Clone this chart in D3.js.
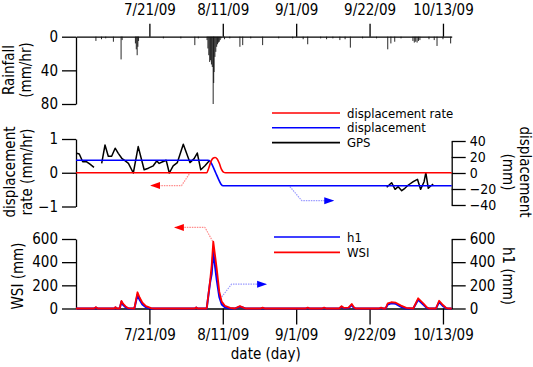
<!DOCTYPE html>
<html>
<head>
<meta charset="utf-8">
<script src="https://cdn.jsdelivr.net/npm/d3@7"></script>
<style>
body { margin: 0; background: #fff; }
svg text { font-family: "DejaVu Sans Condensed", "DejaVu Sans", sans-serif; font-stretch: condensed; fill: #000; }
</style>
</head>
<body>
<svg id="chart" width="533" height="367"></svg>
<script>
/** Data (days counted from 6/30/09) **/
var startDate = "6/30/09";
var endDate = "10/15/09";
var tickLabels = ["7/21/09", "8/11/09", "9/1/09", "9/22/09", "10/13/09"];

// Rainfall (mm/hr)
var rainDay = [5.7, 7.3, 8.5, 10.7, 12.9, 13.2, 17.0, 17.25, 17.5, 17.7, 17.9, 25, 30, 34.0, 35,
    37.5, 37.75, 38.0, 38.25, 38.5, 38.75, 39.0, 39.25, 39.4, 39.5, 39.75, 40.0, 40.25, 40.5, 40.75, 41.0, 41.25, 41.5,
    42.5, 44, 46.9, 47.7, 50, 53.4, 58, 62, 65, 66.3, 70, 71.7, 73.5, 75.5, 77, 78.5, 82, 86,
    89.2, 90.1, 91.2, 93, 96.4, 96.8, 97.2, 97.6, 98.0, 98.4, 101, 102.5, 103.3, 105, 107.2];
var rainVal = [5, 3, 2, 6, 27, 4, 8, 15, 22, 12, 5, 2, 2, 10, 2,
    4, 14, 22, 30, 28, 33, 36, 80, 55, 42, 24, 18, 12, 9, 7, 6, 4, 2,
    3, 2, 12, 10, 2, 10, 2, 2, 3, 9, 2, 3, 2, 4, 3, 13, 2, 2,
    15, 8, 6, 2, 5, 7, 6, 7, 5, 4, 3, 4, 11, 3, 8];

// Displacement rate (mm/hr) and displacement (mm)
var rateDay = [0, 37.4, 38.0, 38.6, 39.2, 39.8, 40.4, 41.0, 41.6, 42.2, 42.8, 107.5];
var rateVal = [0, 0, 0.14, 0.33, 0.43, 0.45, 0.41, 0.28, 0.11, 0.02, 0, 0];
var dispDay = [0, 37.8, 38.5, 39.2, 40.0, 40.8, 41.5, 42.1, 107.5];
var dispVal = [16, 16, 14, 8, 0, -8, -14, -16, -16];

// GPS (mm), null marks a gap
var gpsDay = [0.2, 0.94, 1.92, 3.06, 4.0, 5.15, 6.2,
    7.35, 8.3, 9.24, 10.2, 11.2, 12.1, 13.1, 14.0, 15.0, 16.4, 17.8, 18.8, 19.5, 20.7, 22.1, 23.1, 23.8,
    24.8, 25.8, 26.7, 27.8, 29.0, 30.7, 32.6, 33.8, 34.7, 35.7, 36.9, 37.9, 38.3, 60,
    88.9, 90.3, 91.3, 92.2, 93.2, 94.1, 95.1, 96.5, 97.7, 98.6, 99.6, 100.1, 100.8, 101.5, 102.2];
var gpsVal = [24.6, 23.8, 14, 14, 11, 7, null,
    12, 35, 21, 21, 31, 24.6, 18.4, 15.4, 12, 0, 33, 16, 4, 6, 9, 15, 12,
    14, 16, 0, 9, 13, 36, 13, 18, 25, 4, 9, 14, 16, null,
    -17.9, -12.1, -20.4, -17.1, -22.1, -19.1, -15, -10.9, -7.9, -20.4, -10.9, 0.4, -19.1, -16.2, -13.7];

// WSI and h1 (mm)
var wsiDay = [0, 5.2, 5.7, 6.2, 11.0, 11.3, 11.6, 12.5, 13.0, 13.5, 14.2, 15.0, 16.7, 17.6, 18.2, 19.0, 20.0, 21.5, 22.5,
    34.0, 34.4, 34.8, 37.4, 38.34, 38.83, 39.28, 40.26, 41.0, 41.7, 42.6, 44.1, 45.5, 46.9, 47.7, 48.5,
    52.8, 53.4, 54.0, 65.8, 66.3, 66.8, 70.5, 71.0, 71.5, 75.3, 76.0, 76.6, 78.0, 78.9, 79.5, 80.0,
    86.8, 87.3, 87.8, 88.6, 89.2, 90.2, 91.5, 93.0, 94.5, 96.5, 97.9, 99.5, 100.4, 101.0, 103.0, 103.9, 105.0, 105.9, 106.5, 107.5];
var wsiVal = [0, 0, 12, 0, 0, 12, 0, 0, 65, 40, 18, 3, 0, 140, 95, 50, 20, 3, 0,
    0, 10, 0, 0, 231, 375, 577, 347, 145, 59, 24, 5, 0, 20, 10, 0,
    0, 8, 0, 0, 8, 0, 0, 8, 0, 0, 20, 5, 8, 39, 10, 0,
    0, 8, 0, 0, 45, 54, 50, 25, 5, 0, 88, 40, 10, 0, 0, 67, 30, 5, 0, 0];
var h1Val = [0, 0, 8, 0, 0, 8, 0, 0, 58, 30, 10, 0, 0, 118, 75, 35, 10, 0, 0,
    0, 8, 0, 0, 220, 300, 490, 250, 100, 35, 10, 0, 0, 15, 8, 0,
    0, 5, 0, 0, 5, 0, 0, 5, 0, 0, 15, 3, 5, 30, 5, 0,
    0, 5, 0, 0, 35, 45, 40, 15, 0, 0, 75, 30, 5, 0, 0, 55, 20, 3, 0, 0];

// Dotted annotation arrows, in panel data units
var arrowRateDay = [32.4, 30.2, 21.5];
var arrowRateVal = [-0.04, -0.38, -0.38];
var arrowDispDay = [61.2, 64.6, 73.6];
var arrowDispVal = [-17, -34.6, -34.6];
var arrowWsiDay = [39.1, 36.9, 28.3];
var arrowWsiVal = [580, 700, 700];
var arrowH1Day = [41.7, 44.5, 54.4];
var arrowH1Val = [100, 210, 210];


var parseDate = d3.timeParse("%m/%d/%y");
var t0 = parseDate(startDate);
var t1 = d3.timeHour.offset(parseDate(endDate), 12);

function dayToDate(d)
{
    return new Date(t0.getTime() + d * 86400000);
}

function pairs(days, vals)
{
    return days.map(function(d, i) { return [dayToDate(d), vals[i]]; });
}

var svg = d3.select("#chart");
var xLeft = 76, xRight = 451.7;
var xScale = d3.scaleTime().domain([t0, t1]).range([xLeft, xRight]);
var tickDates = tickLabels.map(parseDate);
var fmt = d3.timeFormat("%-m/%-d/%y");
var fontSize = "15px";

var red = "#ff0000", blue = "#0000ff";

// arrow heads
var defs = svg.append("defs");
[["headRed", red], ["headBlue", blue]].forEach(function(m) {
    defs.append("marker")
        .attr("id", m[0])
        .attr("markerUnits", "userSpaceOnUse")
        .attr("viewBox", "0 -4 10 8")
        .attr("refX", 9).attr("refY", 0)
        .attr("markerWidth", 10).attr("markerHeight", 8)
        .attr("orient", "auto")
        .append("path")
        .attr("d", "M0,-3.5L10,0L0,3.5Z")
        .attr("fill", m[1]);
});

function styleAxis(g, size)
{
    g.selectAll("path, line").attr("stroke", "#000").attr("stroke-width", 1.3);
    g.selectAll("text").attr("font-size", size || fontSize).attr("font-family", null);
    g.attr("font-family", null).attr("font-size", null);
}

function yTitle(lines, bx, cy, angle, size)
{
    var t = svg.append("text")
        .attr("transform", "translate(" + bx + "," + cy + ") rotate(" + angle + ")")
        .attr("text-anchor", "middle")
        .attr("font-size", size || "15px");
    lines.forEach(function(s, i) {
        t.append("tspan").attr("x", 0).attr("dy", i == 0 ? 0 : "1.13em").text(s);
    });
}

function drawLine(data, yS, color, width, curve)
{
    var line = d3.line()
        .defined(function(d) { return d[1] !== null; })
        .curve(curve || d3.curveLinear)
        .x(function(d) { return xScale(d[0]); })
        .y(function(d) { return yS(d[1]); });
    return svg.append("path")
        .datum(data)
        .attr("d", line)
        .attr("fill", "none")
        .attr("stroke", color)
        .attr("stroke-width", width)
        .attr("stroke-linejoin", "round");
}

function drawArrow(days, vals, yS, light, head)
{
    drawLine(pairs(days, vals), yS, light, 1.2)
        .attr("stroke-dasharray", "1.5,1")
        .attr("marker-end", "url(#" + head + ")");
}

function legend(items, x0, x1, y0, step)
{
    items.forEach(function(it, i) {
        var y = y0 + i * step;
        svg.append("line")
            .attr("x1", x0).attr("x2", x1).attr("y1", y).attr("y2", y)
            .attr("stroke", it[1]).attr("stroke-width", 1.6);
        svg.append("text")
            .attr("x", x1 + 7).attr("y", y + 4.5)
            .attr("font-size", "13px")
            .text(it[0]);
    });
}


/**
 * Top panel: rainfall hanging down from the date axis.
 */
function drawModule_rain()
{
    var yRain = d3.scaleLinear().domain([0, 80]).range([36.7, 104]);

    svg.append("g")
        .attr("transform", "translate(0," + yRain(0) + ")")
        .call(d3.axisTop(xScale).tickValues(tickDates).tickFormat(fmt).tickSize(13).tickSizeOuter(0).tickPadding(9))
        .call(styleAxis);

    svg.append("g")
        .attr("transform", "translate(" + xLeft + ",0)")
        .call(d3.axisLeft(yRain).tickValues([0, 40, 80]).tickSize(14).tickSizeOuter(0).tickPadding(4))
        .call(styleAxis);

    svg.append("g")
        .selectAll("line")
        .data(pairs(rainDay, rainVal))
        .enter()
        .append("line")
        .attr("x1", function(d) { return xScale(d[0]); })
        .attr("x2", function(d) { return xScale(d[0]); })
        .attr("y1", yRain(0))
        .attr("y2", function(d) { return yRain(d[1]); })
        .attr("stroke", "#111")
        .attr("stroke-width", 0.9);

    yTitle(["Rainfall", "(mm/hr)"], 14, 70, -90);
}


/**
 * Middle panel: displacement rate (left), displacement and GPS (right).
 */
function drawModule_disp()
{
    var yRate = d3.scaleLinear().domain([-1, 1]).range([206.5, 139]);
    var yDisp = d3.scaleLinear().domain([-40, 40]).range([205, 141]);

    svg.append("g")
        .attr("transform", "translate(" + xLeft + ",0)")
        .call(d3.axisLeft(yRate).tickValues([-1, 0, 1]).tickFormat(d3.format("d")).tickSize(14).tickSizeOuter(0).tickPadding(4))
        .call(styleAxis);

    svg.append("g")
        .attr("transform", "translate(" + xRight + ",0)")
        .call(d3.axisRight(yDisp).tickValues([-40, -20, 0, 20, 40]).tickSize(14).tickSizeOuter(0).tickPadding(4))
        .call(styleAxis, "14px");

    drawArrow(arrowRateDay, arrowRateVal, yRate, "#ff8a8a", "headRed");
    drawArrow(arrowDispDay, arrowDispVal, yDisp, "#9a9aff", "headBlue");

    drawLine(pairs(gpsDay, gpsVal), yDisp, "#000", 1.5);
    drawLine(pairs(dispDay, dispVal), yDisp, blue, 1.6, d3.curveMonotoneX);
    drawLine(pairs(rateDay, rateVal), yRate, red, 1.6, d3.curveMonotoneX);

    legend([["displacement rate", red], ["displacement", blue], ["GPS", "#000"]], 272, 340, 113, 14.8);

    yTitle(["displacement", "rate (mm/hr)"], 15, 172, -90);
    yTitle(["displacement", "(mm)"], 520, 172, 90);
}


/**
 * Bottom panel: WSI (left) and h1 (right).
 */
function drawModule_wsi()
{
    var yWsi = d3.scaleLinear().domain([0, 600]).range([308.5, 239]);
    var yH1 = d3.scaleLinear().domain([0, 600]).range([308.5, 239]);

    svg.append("g")
        .attr("transform", "translate(0," + yWsi(0) + ")")
        .call(d3.axisBottom(xScale).tickValues(tickDates).tickFormat(fmt).tickSize(16).tickSizeOuter(0).tickPadding(5))
        .call(styleAxis);

    svg.append("g")
        .attr("transform", "translate(" + xLeft + ",0)")
        .call(d3.axisLeft(yWsi).tickValues([0, 200, 400, 600]).tickSize(14).tickSizeOuter(0).tickPadding(4))
        .call(styleAxis);

    svg.append("g")
        .attr("transform", "translate(" + xRight + ",0)")
        .call(d3.axisRight(yH1).tickValues([0, 200, 400, 600]).tickSize(14).tickSizeOuter(0).tickPadding(4))
        .call(styleAxis);

    drawArrow(arrowWsiDay, arrowWsiVal, yWsi, "#ff8a8a", "headRed");
    drawArrow(arrowH1Day, arrowH1Val, yH1, "#9a9aff", "headBlue");

    drawLine(pairs(wsiDay, h1Val), yH1, blue, 2);
    drawLine(pairs(wsiDay, wsiVal), yWsi, red, 1.8);

    legend([["h1", blue], ["WSI", red]], 274, 340, 237, 15.4);

    yTitle(["WSI (mm)"], 23, 276, -90);
    yTitle(["h1 (mm)"], 503, 276, 90);

    svg.append("text")
        .attr("x", (xLeft + xRight) / 2 + 2)
        .attr("y", 359)
        .attr("text-anchor", "middle")
        .attr("font-size", "15px")
        .text("date (day)");
}

drawModule_rain();
drawModule_disp();
drawModule_wsi();
</script>
</body>
</html>
